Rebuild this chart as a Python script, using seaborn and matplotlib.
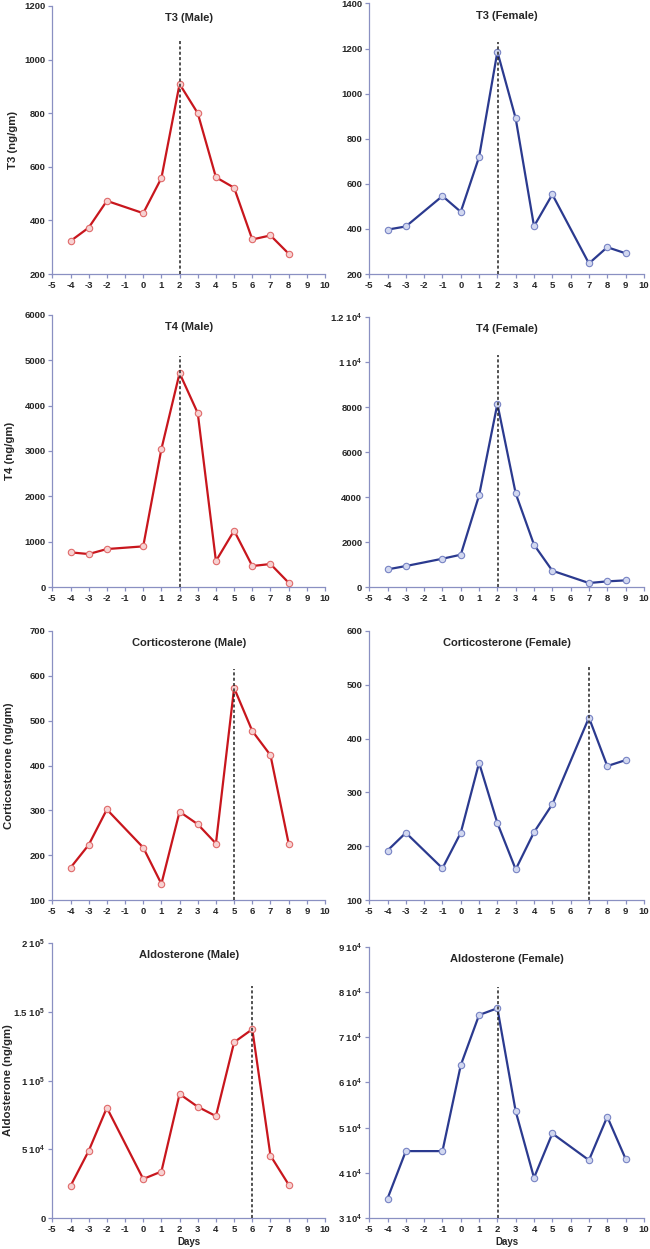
import matplotlib
matplotlib.use('Agg')
import matplotlib.pyplot as plt
import seaborn as sns
import pandas as pd
import numpy as np
from matplotlib.ticker import FuncFormatter

sns.set_style('ticks')
plt.rcParams['font.family'] = ['Liberation Sans', 'DejaVu Sans']
plt.rcParams['font.weight'] = 'bold'
plt.rcParams['axes.unicode_minus'] = False
plt.rcParams['mathtext.fontset'] = 'custom'
plt.rcParams['mathtext.bf'] = 'Liberation Sans:bold'
plt.rcParams['mathtext.rm'] = 'Liberation Sans:bold'
plt.rcParams['mathtext.default'] = 'bf'

# --- Data ---
male_days = [-4, -3, -2, 0, 1, 2, 3, 4, 5, 6, 7, 8]
female_days = [-4, -3, -1, 0, 1, 2, 3, 4, 5, 7, 8, 9]

t3_male = [323, 373, 473, 427, 558, 909, 800, 561, 522, 329, 344, 276]
t3_female = [397, 411, 546, 476, 719, 1186, 890, 412, 553, 247, 319, 292]
t4_male = [764, 727, 837, 896, 3040, 4714, 3833, 573, 1242, 463, 507, 95]
t4_female = [785, 933, 1259, 1437, 4074, 8148, 4163, 1881, 726, 178, 252, 296]
cort_male = [172, 223, 302, 217, 136, 297, 269, 226, 573, 477, 423, 226]
cort_female = [192, 225, 159, 225, 355, 243, 157, 226, 278, 439, 349, 360]
aldo_male = [23300, 48800, 80200, 28400, 33800, 90200, 80900, 74100, 127800, 137300, 45400, 24300]
aldo_female = [34300, 44800, 44800, 63800, 74900, 76400, 53600, 38900, 48700, 42800, 52400, 43100]

# peak day marked by the dashed line, and how high the line goes
peak_days = {'t3_male': 2.05, 't3_female': 2.05, 't4_male': 2.05, 't4_female': 2.05,
             'cort_male': 5, 'cort_female': 7, 'aldo_male': 6, 'aldo_female': 2.05}
peak_tops = {'t3_male': 1068, 't3_female': 1230, 't4_male': 5100, 't4_female': 10300,
             'cort_male': 616, 'cort_female': 533, 'aldo_male': 169000, 'aldo_female': 81200}

RED, RED_EDGE, RED_FACE = '#c8161d', '#e06a6a', '#f7d2d2'
BLUE, BLUE_EDGE, BLUE_FACE = '#2b3a8f', '#7783c4', '#d2d8f0'
SPINE = '#8a90c2'


def sci_label(v, pos):
    if v == 0:
        return '0'
    if v < 10000:
        return '%d' % v
    e = int(np.floor(np.log10(v)))
    return '%g 10$^{%d}$' % (v / 10 ** e, e)


def draw(ax, key, days, vals, color, edge, face, title, ylim, ystep,
         ylabel=None, ylabel_x=-0.14, xlabel=None):
    df = pd.DataFrame({'day': days, 'val': vals})
    sns.lineplot(data=df, x='day', y='val', ax=ax, color=color, lw=1.6,
                 marker='o', markersize=4.6, markerfacecolor=face,
                 markeredgecolor=edge, markeredgewidth=0.8)
    ax.vlines(peak_days[key], ylim[0], peak_tops[key], colors='#222222',
              linestyles=(0, (2, 1.5)), lw=1.1, zorder=5)
    ax.set_xlim(-5, 10)
    ax.set_ylim(*ylim)
    ax.set_xticks(range(-5, 11))
    ax.set_yticks(np.arange(ylim[0], ylim[1] + ystep / 2, ystep))
    ax.yaxis.set_major_formatter(FuncFormatter(sci_label))
    ax.tick_params(labelsize=6.8, length=3, width=0.9, color=SPINE, pad=2)
    for s in ['top', 'right']:
        ax.spines[s].set_visible(False)
    for s in ['left', 'bottom']:
        ax.spines[s].set_color(SPINE)
        ax.spines[s].set_linewidth(0.9)
    ax.text(0.5, 0.955, title, transform=ax.transAxes, ha='center', va='center',
            fontsize=8, fontweight='bold')
    ax.set_ylabel(ylabel if ylabel else '', fontsize=8.2, fontweight='bold')
    ax.yaxis.set_label_coords(ylabel_x, 0.5)
    ax.set_xlabel(xlabel if xlabel else '', fontsize=7, fontweight='bold', labelpad=2.5)


fig = plt.figure(figsize=(6.5, 12.49), dpi=100)
left_x, left_w = 0.0805, 0.4195
right_x, right_w = 0.568, 0.4226
rows = [(0.7806, 0.2146), (0.530, 0.218), (0.2794, 0.2154), (0.0248, 0.2202)]

ax = fig.add_axes([left_x, rows[0][0], left_w, rows[0][1]])
draw(ax, 't3_male', male_days, t3_male, RED, RED_EDGE, RED_FACE, 'T3 (Male)', (200, 1200), 200,
     'T3 (ng/gm)', -0.126)
ax = fig.add_axes([right_x, rows[0][0], right_w, rows[0][1] + 0.002])
draw(ax, 't3_female', female_days, t3_female, BLUE, BLUE_EDGE, BLUE_FACE, 'T3 (Female)', (200, 1400), 200)

ax = fig.add_axes([left_x, rows[1][0], left_w, rows[1][1]])
draw(ax, 't4_male', male_days, t4_male, RED, RED_EDGE, RED_FACE, 'T4 (Male)', (0, 6000), 1000,
     'T4 (ng/gm)', -0.137)
ax = fig.add_axes([right_x, rows[1][0], right_w, rows[1][1] - 0.002])
draw(ax, 't4_female', female_days, t4_female, BLUE, BLUE_EDGE, BLUE_FACE, 'T4 (Female)', (0, 12000), 2000)

ax = fig.add_axes([left_x, rows[2][0], left_w, rows[2][1]])
draw(ax, 'cort_male', male_days, cort_male, RED, RED_EDGE, RED_FACE, 'Corticosterone (Male)', (100, 700), 100,
     'Corticosterone (ng/gm)', -0.14)
ax = fig.add_axes([right_x, rows[2][0], right_w, rows[2][1]])
draw(ax, 'cort_female', female_days, cort_female, BLUE, BLUE_EDGE, BLUE_FACE, 'Corticosterone (Female)',
     (100, 600), 100)

ax = fig.add_axes([left_x, rows[3][0], left_w, rows[3][1]])
draw(ax, 'aldo_male', male_days, aldo_male, RED, RED_EDGE, RED_FACE, 'Aldosterone (Male)', (0, 200000), 50000,
     'Aldosterone (ng/gm)', -0.144, 'Days')
ax = fig.add_axes([right_x, rows[3][0], right_w, rows[3][1] - 0.003])
draw(ax, 'aldo_female', female_days, aldo_female, BLUE, BLUE_EDGE, BLUE_FACE, 'Aldosterone (Female)',
     (30000, 90000), 10000, None, -0.14, 'Days')

plt.savefig('out.png', dpi=100)
